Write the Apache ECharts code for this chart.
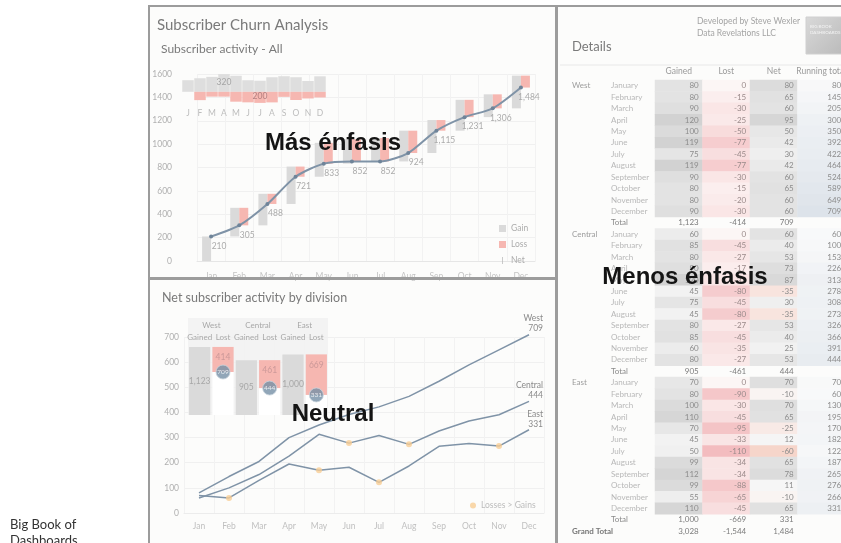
<!DOCTYPE html>
<html>
<head>
<meta charset="utf-8">
<script src="https://cdn.jsdelivr.net/npm/echarts@6/dist/echarts.min.js"></script>
<style>
  html, body { margin: 0; padding: 0; background: #fff; }
  #main { width: 841px; height: 543px; }
</style>
</head>
<body>
<div id="main"></div>
<script>
var months = ['Jan', 'Feb', 'Mar', 'Apr', 'May', 'Jun', 'Jul', 'Aug', 'Sep', 'Oct', 'Nov', 'Dec'];
var monthLetters = ['J', 'F', 'M', 'A', 'M', 'J', 'J', 'A', 'S', 'O', 'N', 'D'];
var monthNames = ['January', 'February', 'March', 'April', 'May', 'June', 'July', 'August', 'September', 'October', 'November', 'December'];
var divisions = ['West', 'Central', 'East'];

// details table, per division
var westGained = [80, 80, 90, 120, 100, 119, 75, 119, 90, 80, 80, 90];
var westLost = [0, -15, -30, -25, -50, -77, -45, -77, -30, -15, -20, -30];
var westNet = [80, 65, 60, 95, 50, 42, 30, 42, 60, 65, 60, 60];
var westRunning = [80, 145, 205, 300, 350, 392, 422, 464, 524, 589, 649, 709];

var centralGained = [60, 85, 80, 90, 120, 45, 75, 45, 80, 85, 60, 80];
var centralLost = [0, -45, -27, -17, -33, -80, -45, -80, -27, -45, -35, -27];
var centralNet = [60, 40, 53, 73, 87, -35, 30, -35, 53, 40, 25, 53];
var centralRunning = [60, 100, 153, 226, 313, 278, 308, 273, 326, 366, 391, 444];

var eastGained = [70, 80, 100, 110, 70, 45, 50, 99, 112, 99, 55, 110];
var eastLost = [0, -90, -30, -45, -95, -33, -110, -34, -34, -88, -65, -45];
var eastNet = [70, -10, 70, 65, -25, 12, -60, 65, 78, 11, -10, 65];
var eastRunning = [70, 60, 130, 195, 170, 182, 122, 187, 265, 276, 266, 331];

// all divisions, running total (labels of the top chart)
var allRunning = [210, 305, 488, 721, 833, 852, 852, 924, 1115, 1231, 1306, 1484];

var gainedByDiv = [westGained, centralGained, eastGained];
var lostByDiv = [westLost, centralLost, eastLost];
var netByDiv = [westNet, centralNet, eastNet];
var runningByDiv = [westRunning, centralRunning, eastRunning];

function sum(a) { return a.reduce(function (s, v) { return s + v; }, 0); }
function fmt(v) { return Number(v).toLocaleString('en-US'); }

var allGain = months.map(function (m, i) { return westGained[i] + centralGained[i] + eastGained[i]; });
var allLoss = months.map(function (m, i) { return -(westLost[i] + centralLost[i] + eastLost[i]); });
var prevRunning = allRunning.map(function (v, i) { return i === 0 ? 0 : allRunning[i - 1]; });
var maxGain = Math.max.apply(null, allGain);
var maxLoss = Math.max.apply(null, allLoss);

var GRAY = '#dadada', PINK = '#f6b7b1', LINE = '#7f93a7', FONT = 'Lato';

// table rows
var rowLabels = [], divLabels = [];
var heatGained = [], heatLost = [], heatNet = [], heatRunning = [], heatTotals = [];
divisions.forEach(function (d, k) {
  for (var m = 0; m < 12; m++) {
    var r = k * 13 + m;
    rowLabels.push(monthNames[m]);
    divLabels.push(m === 0 ? d : '');
    heatGained.push([0, r, gainedByDiv[k][m]]);
    heatLost.push([1, r, lostByDiv[k][m]]);
    heatNet.push([2, r, netByDiv[k][m]]);
    heatRunning.push([3, r, runningByDiv[k][m]]);
  }
  var rt = k * 13 + 12;
  rowLabels.push('Total');
  divLabels.push('');
  heatTotals.push([0, rt, sum(gainedByDiv[k])], [1, rt, sum(lostByDiv[k])], [2, rt, sum(netByDiv[k])]);
});
rowLabels.push('');
divLabels.push('Grand Total');
heatTotals.push([0, 39, sum(allGain)], [1, 39, -sum(allLoss)], [2, 39, sum(allGain) - sum(allLoss)]);

// bottom inset: division totals
var divCats = ['Gained', 'Lost', 'Gained', 'Lost', 'Gained', 'Lost'];
var inGained = [], inNet = [], inLost = [], inDots = [];
divisions.forEach(function (d, k) {
  var g = sum(gainedByDiv[k]), l = -sum(lostByDiv[k]), n = sum(netByDiv[k]);
  inGained.push(g, '-'); inNet.push('-', n); inLost.push('-', l);
  inDots.push([2 * k + 1, n]);
});

// losses > gains dots
var lossDots = [];
divisions.forEach(function (d, k) {
  netByDiv[k].forEach(function (v, i) { if (v < 0) lossDots.push([i, runningByDiv[k][i]]); });
});

function lineData(arr) {
  return arr.map(function (v, i) { return i === arr.length - 1 ? { value: v, label: { show: true } } : v; });
}

var chart = echarts.init(document.getElementById('main'));

var gridBase = { containLabel: false, outerBoundsMode: 'none' };
function g(o) { return Object.assign({}, gridBase, o); }

var hidden = { show: false };
function divLine(name, data) {
  return { name: name, type: 'line', xAxisIndex: 2, yAxisIndex: 2, data: lineData(data),
    symbol: 'circle', symbolSize: 0, showSymbol: true, clip: false,
    lineStyle: { color: LINE, width: 1.5 }, itemStyle: { color: LINE },
    label: { show: false, position: 'top', distance: 1, align: 'right', offset: [14, 0], color: '#8a8a8a',
      fontSize: 8.5, lineHeight: 10, formatter: function (p) { return p.seriesName + '\n' + p.value; } } };
}
function heat(data, color) {
  return { type: 'heatmap', xAxisIndex: 5, yAxisIndex: 4, data: data,
    label: { show: true, position: 'insideRight', distance: 4, color: color, fontSize: 8,
      formatter: function (p) { return fmt(p.value[2]); } } };
}

var option = {
  animation: false,
  textStyle: { fontFamily: FONT },
  grid: [
    g({ left: 197, top: 74, width: 338, height: 187 }),
    g({ left: 182, top: 73, width: 144, height: 31 }),
    g({ left: 184, top: 337, width: 360, height: 176 }),
    g({ left: 188, top: 318, width: 140, height: 97, show: true, backgroundColor: '#f3f3f3', borderWidth: 0 }),
    g({ left: 655, top: 80, width: 190, height: 457 })
  ],
  xAxis: [
    { gridIndex: 0, type: 'category', data: months,
      axisLine: { lineStyle: { color: '#e6e6e6' } }, axisTick: hidden,
      axisLabel: { color: '#c4c4c4', fontSize: 8.5, margin: 11 },
      splitLine: { show: true, lineStyle: { color: '#f2f2f2' } } },
    { gridIndex: 1, type: 'category', data: monthLetters,
      axisLine: hidden, axisTick: hidden,
      axisLabel: { color: '#bdbdbd', fontSize: 8.5, margin: 5, interval: 0 } },
    { gridIndex: 2, type: 'category', data: months,
      axisLine: { lineStyle: { color: '#ececec' } }, axisTick: hidden,
      axisLabel: { color: '#c0c0c0', fontSize: 8.5, margin: 9 },
      splitLine: { show: true, lineStyle: { color: '#f2f2f2' } } },
    { gridIndex: 3, type: 'category', data: divCats, position: 'top', offset: -26,
      axisLine: hidden, axisTick: hidden,
      axisLabel: { color: '#a8a8a8', fontSize: 8, margin: 3, interval: 0 } },
    { gridIndex: 3, type: 'category', data: divisions, position: 'top', offset: -14,
      axisLine: hidden, axisTick: hidden,
      axisLabel: { color: '#a8a8a8', fontSize: 8, margin: 3, interval: 0 } },
    { gridIndex: 4, type: 'category', data: ['Gained', 'Lost', 'Net', 'Running total'], position: 'top',
      axisLine: hidden, axisTick: hidden,
      axisLabel: { color: '#9a9a9a', fontSize: 8.5, margin: 4, interval: 0 } }
  ],
  yAxis: [
    { gridIndex: 0, type: 'value', min: 0, max: 1600, interval: 200,
      axisLine: hidden, axisTick: hidden,
      axisLabel: { color: '#b0b0b0', fontSize: 8.5, margin: 25, formatter: function (v) { return String(v); } },
      splitLine: { lineStyle: { color: '#f0f0f0' } } },
    { gridIndex: 1, type: 'value', min: -220, max: 340, show: false },
    { gridIndex: 2, type: 'value', min: 0, max: 700, interval: 100,
      axisLine: hidden, axisTick: hidden,
      axisLabel: { color: '#b0b0b0', fontSize: 8.5, margin: 5 },
      splitLine: { lineStyle: { color: '#f0f0f0' } } },
    { gridIndex: 3, type: 'value', min: 0, max: 1600, show: false },
    { gridIndex: 4, type: 'category', data: rowLabels, inverse: true, position: 'left',
      axisLine: hidden, axisTick: hidden,
      axisLabel: { interval: 0, align: 'left', margin: 44, color: '#b8b8b8', fontSize: 8,
        formatter: function (v) { return v === 'Total' ? '{t|Total}' : v; },
        rich: { t: { color: '#8a8a8a', fontSize: 8 } } } },
    { gridIndex: 4, type: 'category', data: divLabels, inverse: true, position: 'left', offset: 0,
      axisLine: hidden, axisTick: hidden,
      axisLabel: { interval: 0, align: 'left', margin: 83, color: '#9c9c9c', fontSize: 8,
        formatter: function (v) { return v === 'Grand Total' ? '{g|Grand Total}' : v; },
        rich: { g: { color: '#777', fontSize: 8, fontWeight: 'bold' } } } }
  ],
  legend: [
    { left: 494, top: 219, orient: 'vertical', itemWidth: 7, itemHeight: 7, itemGap: 7, selectedMode: false,
      textStyle: { color: '#acacac', fontSize: 8.5 },
      data: [
        { name: 'Gain', icon: 'rect' },
        { name: 'Loss', icon: 'rect' },
        { name: 'Net', icon: 'path://M0,0M7,10M3,0L4,0L4,10L3,10Z', itemStyle: { color: '#b5b5b5' } }
      ] },
    { left: 465, top: 496, itemWidth: 6, itemHeight: 6, selectedMode: false,
      textStyle: { color: '#bcbcbc', fontSize: 8.5 },
      data: [{ name: 'Losses > Gains', icon: 'circle' }] }
  ],
  visualMap: [
    { show: false, seriesIndex: 14, dimension: 2, min: 45, max: 120, inRange: { color: ['#f2f2f2', '#d2d2d2'] } },
    { show: false, seriesIndex: 15, dimension: 2, min: -110, max: 0, inRange: { color: ['#f3bcbf', '#fcf6f5'] } },
    { show: false, seriesIndex: 16, dimension: 2, min: -95, max: 95, inRange: { color: ['#f4bfae', '#fafafa', '#d6d6d6'] } },
    { show: false, seriesIndex: 17, dimension: 2, min: 0, max: 709, inRange: { color: ['#fbfbfb', '#dde3ea'] } },
    { show: false, seriesIndex: 18, dimension: 2, min: -2000, max: 4000, inRange: { color: ['rgba(0,0,0,0)', 'rgba(0,0,0,0)'] } }
  ],
  series: [
    // 0-4: top waterfall
    { type: 'bar', xAxisIndex: 0, yAxisIndex: 0, stack: 'g', data: prevRunning, barWidth: 9, barGap: '0%',
      itemStyle: { color: 'rgba(0,0,0,0)' }, silent: true },
    { name: 'Gain', type: 'bar', xAxisIndex: 0, yAxisIndex: 0, stack: 'g', data: allGain, barWidth: 9, barGap: '0%',
      itemStyle: { color: GRAY } },
    { type: 'bar', xAxisIndex: 0, yAxisIndex: 0, stack: 'l', data: allRunning, barWidth: 9, barGap: '0%',
      itemStyle: { color: 'rgba(0,0,0,0)' }, silent: true },
    { name: 'Loss', type: 'bar', xAxisIndex: 0, yAxisIndex: 0, stack: 'l', data: allLoss, barWidth: 9, barGap: '0%',
      itemStyle: { color: PINK } },
    { name: 'Net', type: 'line', xAxisIndex: 0, yAxisIndex: 0, data: allRunning, smooth: 0.25,
      symbol: 'circle', symbolSize: 4, z: 5,
      lineStyle: { color: LINE, width: 2 }, itemStyle: { color: '#6f8499' },
      label: { show: true, position: 'bottom', distance: 3, offset: [8, 0], color: '#ababab', fontSize: 8.5,
        formatter: function (p) { return fmt(p.value); } } },
    // 5-6: top inset
    { type: 'bar', xAxisIndex: 1, yAxisIndex: 1, stack: 'm', barCategoryGap: '4%',
      data: allGain.map(function (v) { return v === maxGain ? { value: v, label: { show: true } } : v; }),
      itemStyle: { color: '#dedede' },
      label: { show: false, position: 'insideTop', distance: 4, color: '#a5a5a5', fontSize: 8.5 } },
    { type: 'bar', xAxisIndex: 1, yAxisIndex: 1, stack: 'm', barCategoryGap: '4%',
      data: allLoss.map(function (v) { return v === maxLoss ? { value: -v, label: { show: true } } : -v; }),
      itemStyle: { color: PINK },
      label: { show: false, position: 'insideBottom', distance: 2, color: '#b48080', fontSize: 8.5,
        formatter: function (p) { return fmt(-p.value); } } },
    // 7-10: bottom lines
    divLine('West', westRunning),
    divLine('Central', centralRunning),
    divLine('East', eastRunning),
    { name: 'Losses > Gains', type: 'scatter', xAxisIndex: 2, yAxisIndex: 2, data: lossDots, symbolSize: 6, z: 6,
      itemStyle: { color: '#f7cd95' } },
    // 11-13: bottom inset
    { type: 'bar', xAxisIndex: 3, yAxisIndex: 3, stack: 'd', data: inGained, barCategoryGap: '9%',
      itemStyle: { color: GRAY },
      label: { show: true, position: 'inside', color: '#a8a8a8', fontSize: 8.5, formatter: function (p) { return fmt(p.value); } } },
    { type: 'bar', xAxisIndex: 3, yAxisIndex: 3, stack: 'd', data: inNet, barCategoryGap: '9%',
      itemStyle: { color: '#ffffff' } },
    { type: 'bar', xAxisIndex: 3, yAxisIndex: 3, stack: 'd', data: inLost, barCategoryGap: '9%',
      itemStyle: { color: PINK },
      label: { show: true, position: 'insideTop', distance: 6, color: '#c99', fontSize: 8.5 } },
    // 14-18: details table
    heat(heatGained, '#8c8c8c'),
    heat(heatLost, '#9a8a8a'),
    heat(heatNet, '#8c8c8c'),
    heat(heatRunning, '#8c8c8c'),
    heat(heatTotals, '#7c7c7c'),
    // 19: net circles in bottom inset
    { type: 'scatter', xAxisIndex: 3, yAxisIndex: 3, data: inDots, symbolSize: 14, z: 6,
      itemStyle: { color: '#7590a6', borderColor: '#c9d4dd', borderWidth: 1 },
      label: { show: true, position: 'inside', color: '#fff', fontSize: 6.5,
        formatter: function (p) { return p.value[1]; } } }
  ],
  graphic: [
    // panels
    { type: 'rect', z: -10, shape: { x: 148, y: 5, width: 409, height: 273 }, style: { fill: '#fcfcfb' } },
    { type: 'rect', z: -10, shape: { x: 148, y: 278, width: 409, height: 270 }, style: { fill: '#fcfcfb' } },
    { type: 'rect', z: -10, shape: { x: 557, y: 5, width: 290, height: 545 }, style: { fill: '#fcfcfb' } },
    { type: 'rect', z: 50, shape: { x: 149, y: 6, width: 407, height: 272 }, style: { fill: 'none', stroke: '#9c9c9c', lineWidth: 2 } },
    { type: 'rect', z: 50, shape: { x: 149, y: 279, width: 407, height: 270 }, style: { fill: 'none', stroke: '#9c9c9c', lineWidth: 2 } },
    { type: 'rect', z: 50, shape: { x: 557, y: 6, width: 290, height: 545 }, style: { fill: 'none', stroke: '#9c9c9c', lineWidth: 2 } },
    // titles
    { type: 'text', left: 157, top: 18, style: { text: 'Subscriber Churn Analysis', fill: '#7a7a7a', font: '15px Lato' } },
    { type: 'text', left: 161, top: 43, style: { text: 'Subscriber activity - All', fill: '#7a7a7a', font: '12px Lato' } },
    { type: 'text', left: 162, top: 291, style: { text: 'Net subscriber activity by division', fill: '#7a7a7a', font: '12.5px Lato' } },
    { type: 'text', left: 572, top: 40, style: { text: 'Details', fill: '#7a7a7a', font: '13px Lato' } },
    { type: 'text', right: 41, top: 15, style: { text: 'Developed by Steve Wexler\nData Revelations LLC', fill: '#a4a4a4',
      font: '8.5px Lato', align: 'right', lineHeight: 12 } },
    // book thumbnail
    { type: 'rect', z: 1, shape: { x: 806, y: 17, width: 40, height: 37 },
      style: { fill: new echarts.graphic.LinearGradient(0, 0, 1, 1, [{ offset: 0, color: '#d9d9d9' }, { offset: 1, color: '#b9b9b9' }]),
        stroke: '#d0d0d0' } },
    { type: 'text', z: 2, left: 810, top: 24, style: { text: 'BIG BOOK\nDASHBOARDS', fill: '#f4f4f4', font: '4.5px Lato', lineHeight: 6 } },
    // table header rule
    { type: 'line', z: 1, shape: { x1: 560, y1: 65, x2: 841, y2: 65 }, style: { stroke: '#e8e8e8', lineWidth: 1 } },
    // left caption
    { type: 'text', left: 10, top: 517, style: { text: 'Big Book of\nDashboards', fill: '#333', font: '13px Lato', lineHeight: 16 } },
    // emphasis annotations
    { type: 'text', z: 100, x: 333, y: 143, style: { text: 'Más énfasis', fill: '#141414', font: 'bold 24px "Liberation Sans"', align: 'center', verticalAlign: 'middle' } },
    { type: 'text', z: 100, x: 685, y: 277, style: { text: 'Menos énfasis', fill: '#141414', font: 'bold 24px "Liberation Sans"', align: 'center', verticalAlign: 'middle' } },
    { type: 'text', z: 100, x: 333, y: 414, style: { text: 'Neutral', fill: '#141414', font: 'bold 24px "Liberation Sans"', align: 'center', verticalAlign: 'middle' } }
  ]
};

chart.setOption(option);
</script>
</body>
</html>
